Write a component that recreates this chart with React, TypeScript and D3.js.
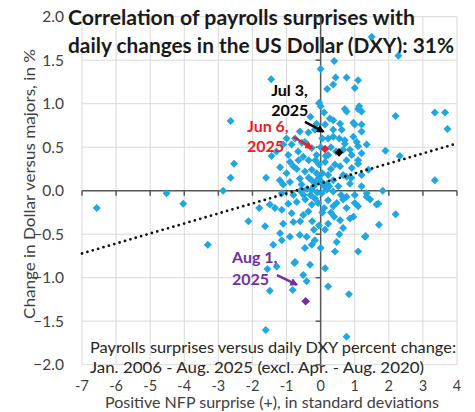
import { useEffect, useRef } from "react"
import * as d3 from "d3"

// NFP surprise (std dev) vs daily DXY change (%)
const surpriseX = [
  -6.57, -4.52, -4.03, -2.86, -2.64, -2.54, -2.64, -2.12, -3.31,
  -1.45, -1.44, -1.1, -1.19, -0.9, -1.0, -0.85, -0.95, -1.1, -1.14, -1.63, -1.49, -1.34, -1.14, -1.1, -1.19,
  -1.39, -1.14, -1.56, -1.29, -1.49, -1.61, -0.9, -0.85, -0.8,
  -0.66, -0.51, -0.12, -0.26, -0.8, -0.46, -0.12, -0.26, -0.26, -0.61, -0.56, -0.26, -0.61, -0.36, -0.12,
  -0.46, -0.17, -0.04, -0.7, -0.51, -0.36, -0.26, -0.17, -0.07, -0.61, -0.41, -0.17, -0.26, -0.46, 0.0,
  -0.75, -0.31, -0.51, -0.82, -0.41, -0.77,
  0.03, 0.18, 0.52, 0.37, 0.76, 1.4, 0.22, 0.13, 0.57, 0.22, 0.66, 0.91, 1.1, 0.76, 0.22, 0.96, 0.71, 1.35,
  1.1, 0.27, 0.57, 1.0, 0.13, 0.37, 0.0, 0.76, 1.1, 0.4, 0.0, 0.44, 0.76, 1.1, 0.37, 0.19, 1.0, 0.71,
  1.13, 1.2, 0.37, 0.96, 1.2, 0.62, 1.2, 0.37, 1.06, 0.71, 1.9, 2.32, 0.86, 1.2, 1.1, 0.42, 0.91, 1.2,
  0.66, 0.86, 3.35, 1.82, 1.35, 1.0, 1.45, 0.66, 1.69, 1.1, 0.76, 0.37, 2.2, 0.96, 0.57, 1.71, 0.66, 1.32,
  2.2, 3.35, 3.65, 3.72, 2.28, 1.5,
  0.03, 0.22, 0.37, 0.47, 0.76, 1.0, 1.35, 1.64, 0.86, 0.22, 0.13, 1.3, 0.47, 0.42, 1.1, 0.13,
  0.83, 0.22, 0.76,
  -0.4, -0.2, -0.1, 0.1, -0.3, -0.15, 0.05, -0.05, 0.1, -0.45, -0.6, -0.9, -0.7, -1.0, 0.3, 0.45, 0.3,
  0.55, -0.35, 0.05, 0.1, -0.3, -0.8, -0.95, -1.2, -0.6, -0.25, -0.05, 0.3, 0.6, 0.25, -0.55, -0.75, 0.0,
  0.9, 1.2, 0.55, -1.3, -1.6, -1.8,
  -0.35, -0.15, 0.15, 0.05, -0.5, -0.2, 0.2, -0.05, -0.65, 0.4,
]
const dollarY = [
  -0.2, -0.03, -0.15, 0.0, 0.15, 0.31, 0.8, -0.35, -0.62,
  1.28, 0.4, 0.53, 0.27, 0.33, 0.6, 0.53, 0.41, 0.07, -0.03, -0.41, -0.16, -0.2, -0.22, -0.38, -0.49,
  -0.62, -0.57, -0.9, -0.87, -1.15, -1.6, -0.53, -0.26, -0.36,
  0.45, 0.39, 0.41, 0.49, 0.28, 0.22, 0.2, 0.24, 0.12, 0.14, 0.07, 0.01, 0.68, 0.67, 0.77,
  0.56, 0.7, 1.01, -0.13, -0.28, -0.24, -0.16, -0.09, -0.14, -0.51, -0.53, -0.57, -0.62, -0.66, -0.66,
  -0.82, -0.85, -0.97, -1.14, -1.04, -0.83,
  0.1, 0.01, 0.05, 0.12, 0.16, 0.24, 0.18, 0.33, 0.28, 0.41, 0.47, 0.41, 0.35, 0.35, 0.6, 0.62, 0.58, 0.53,
  0.51, 0.83, 0.77, 0.76, 0.76, 0.7, 0.97, 0.91, 0.94, 1.49, 1.4, 1.3, 1.3, 1.27, 1.22, 1.17, 1.18, 0.94,
  0.97, 0.91, 0.81, 0.78, 0.76, 0.7, 0.68, 0.62, 0.56, 0.54, 0.46, 0.4, 0.47, 0.43, 0.31, 0.3, 0.26, 0.18,
  0.18, 0.08, 0.12, 0.0, -0.03, -0.05, -0.1, -0.1, -0.15, -0.18, -0.2, -0.18, -0.27, -0.3, -0.34, -0.39, -0.43, -0.52,
  0.86, 0.9, 0.9, 0.71, 1.55, 1.77,
  -0.03, -0.11, -0.01, -0.14, -0.07, -0.14, -0.07, -0.16, -0.32, -0.38, -0.45, -0.53, -0.59, -0.7, -0.7, -0.89,
  -1.19, -1.1, -1.68,
  0.02, 0.05, -0.02, 0.05, -0.05, 0.1, 0.2, 0.3, -0.2, -0.1, 0.0, 0.1, 0.25, 0.2, 0.25, 0.45, 0.5,
  0.6, 0.35, 0.6, 0.9, 0.85, -0.05, -0.15, 0.12, -0.35, -0.35, -0.4, -0.25, -0.05, 0.05, 0.55, 0.6, 0.5,
  0.15, 0.05, -0.5, 0.45, 0.15, -0.2,
  0.15, 0.35, 0.4, -0.25, -0.05, -0.45, 0.08, 0.15, 0.35, -0.3,
]

// highlighted releases
const highlights = [
  { label: ["Jul 3,", "2025"], x: 0.54, y: 0.44, color: "#000000", textX: -1.45, textY: [1.09, 0.86], from: [-0.46, 0.79], to: [0.08, 0.68] },
  { label: ["Jun 6,", "2025"], x: 0.13, y: 0.48, color: "#e8202a", textX: -2.16, textY: [0.67, 0.45], from: [-0.8, 0.62], to: [-0.26, 0.49] },
  { label: ["Aug 1,", "2025"], x: -0.44, y: -1.27, color: "#7030a0", textX: -2.6, textY: [-0.83, -1.08], from: [-1.28, -0.97], to: [-0.7, -1.08] },
]

// linear fit shown as dotted line
const trendSlope = 0.115
const trendIntercept = 0.083

const xTicks = d3.range(-7, 5, 1)
const yTicks = d3.range(-2, 2.01, 0.5)
const titleLines = ["Correlation of payrolls surprises with", "daily changes in the US Dollar (DXY): 31%"]
const noteLines = ["Payrolls surprises versus daily DXY percent change:", "Jan. 2006 - Aug. 2025 (excl. Apr. - Aug. 2020)"]
const xTitle = "Positive NFP surprise (+), in standard deviations"
const yTitle = "Change in Dollar versus majors, in %"

const font = "Lato, 'Open Sans', sans-serif"

export default function App() {
  const svgRef = useRef<SVGSVGElement>(null)

  useEffect(() => {
    if (!svgRef.current) return
    const svg = d3.select(svgRef.current)
    svg.selectAll("*").remove()

    const width = 475
    const height = 412
    const margin = { top: 16.7, right: 18, bottom: 47.3, left: 82 }

    const x = d3.scaleLinear().domain([-7, 4]).range([margin.left, width - margin.right])
    const y = d3.scaleLinear().domain([-2, 2]).range([height - margin.bottom, margin.top])

    svg.append("rect").attr("width", width).attr("height", height).attr("fill", "#ffffff")

    // grid
    svg.append("g")
      .selectAll("line")
      .data(xTicks)
      .join("line")
      .attr("x1", (d) => x(d))
      .attr("x2", (d) => x(d))
      .attr("y1", y(2))
      .attr("y2", y(-2))
      .attr("stroke", "#d9d9d9")
      .attr("stroke-width", 1)

    svg.append("g")
      .selectAll("line")
      .data(yTicks)
      .join("line")
      .attr("x1", x(-7))
      .attr("x2", x(4))
      .attr("y1", (d) => y(d))
      .attr("y2", (d) => y(d))
      .attr("stroke", "#d9d9d9")
      .attr("stroke-width", 1)

    // title sits under the axis lines
    const titleLen = [347, 386]
    titleLines.forEach((t, i) => {
      svg.append("text")
        .attr("x", 68)
        .attr("y", 25 + i * 28)
        .attr("font-family", font)
        .attr("font-weight", "bold")
        .attr("font-size", 20)
        .attr("fill", "#1a1a1a")
        .attr("textLength", titleLen[i])
        .attr("lengthAdjust", "spacingAndGlyphs")
        .text(t)
    })

    // axis lines through the origin
    const axisColor = "#595959"
    svg.append("line")
      .attr("x1", x(-7)).attr("x2", x(4))
      .attr("y1", y(0)).attr("y2", y(0))
      .attr("stroke", axisColor).attr("stroke-width", 1.5)
    svg.append("g")
      .selectAll("line")
      .data(xTicks)
      .join("line")
      .attr("x1", (d) => x(d)).attr("x2", (d) => x(d))
      .attr("y1", y(0)).attr("y2", y(0) + 5)
      .attr("stroke", axisColor).attr("stroke-width", 1.5)

    svg.append("line")
      .attr("x1", x(0)).attr("x2", x(0))
      .attr("y1", y(-2)).attr("y2", y(2))
      .attr("stroke", axisColor).attr("stroke-width", 1.5)
    svg.append("g")
      .selectAll("line")
      .data(yTicks)
      .join("line")
      .attr("x1", x(0) - 5).attr("x2", x(0))
      .attr("y1", (d) => y(d)).attr("y2", (d) => y(d))
      .attr("stroke", axisColor).attr("stroke-width", 1.5)

    // tick labels
    svg.append("g")
      .selectAll("text")
      .data(yTicks)
      .join("text")
      .attr("x", 64)
      .attr("y", (d) => y(d) + 5.5)
      .attr("text-anchor", "end")
      .attr("font-family", font)
      .attr("font-size", 15.5)
      .attr("fill", "#404040")
      .text((d) => d3.format(".1f")(d))

    svg.append("g")
      .selectAll("text")
      .data(xTicks)
      .join("text")
      .attr("x", (d) => x(d))
      .attr("y", 390.5)
      .attr("text-anchor", "middle")
      .attr("font-family", font)
      .attr("font-size", 14.5)
      .attr("fill", "#404040")
      .text((d) => String(d))

    svg.append("text")
      .attr("x", 272)
      .attr("y", 408)
      .attr("text-anchor", "middle")
      .attr("font-family", font)
      .attr("font-size", 15)
      .attr("fill", "#404040")
      .attr("textLength", 334)
      .attr("lengthAdjust", "spacingAndGlyphs")
      .text(xTitle)

    svg.append("text")
      .attr("transform", `translate(35,184) rotate(-90)`)
      .attr("text-anchor", "middle")
      .attr("font-family", font)
      .attr("font-size", 15.5)
      .attr("fill", "#404040")
      .attr("textLength", 270)
      .attr("lengthAdjust", "spacingAndGlyphs")
      .text(yTitle)

    const noteLen = [366, 334]
    noteLines.forEach((t, i) => {
      svg.append("text")
        .attr("x", 90)
        .attr("y", 353 + i * 20)
        .attr("font-family", font)
        .attr("font-size", 15)
        .attr("fill", "#262626")
        .attr("textLength", noteLen[i])
        .attr("lengthAdjust", "spacingAndGlyphs")
        .text(t)
    })

    // scatter
    const diamond = (r: number) => `M0,${-r}L${r},0L0,${r}L${-r},0Z`
    const points = surpriseX.map((v, i) => ({ x: v, y: dollarY[i] }))
    svg.append("g")
      .selectAll("path")
      .data(points)
      .join("path")
      .attr("d", diamond(4))
      .attr("transform", (d) => `translate(${x(d.x)},${y(d.y)})`)
      .attr("fill", "#1fa7e1")

    // trend line
    svg.append("line")
      .attr("x1", x(-7)).attr("y1", y(trendIntercept + trendSlope * -7))
      .attr("x2", x(4)).attr("y2", y(trendIntercept + trendSlope * 4))
      .attr("stroke", "#111")
      .attr("stroke-width", 2.8)
      .attr("stroke-linecap", "round")
      .attr("stroke-dasharray", "0,5.6")

    // highlighted releases with arrows
    const defs = svg.append("defs")
    highlights.forEach((h, i) => {
      defs.append("marker")
        .attr("id", `arrow${i}`)
        .attr("viewBox", "0 0 10 10")
        .attr("refX", 8).attr("refY", 5)
        .attr("markerWidth", 3.2).attr("markerHeight", 3.2)
        .attr("orient", "auto")
        .append("path")
        .attr("d", "M0,0L10,5L0,10Z")
        .attr("fill", h.color)

      svg.append("path")
        .attr("d", diamond(4.3))
        .attr("transform", `translate(${x(h.x)},${y(h.y)})`)
        .attr("fill", h.color)

      svg.append("line")
        .attr("x1", x(h.from[0])).attr("y1", y(h.from[1]))
        .attr("x2", x(h.to[0])).attr("y2", y(h.to[1]))
        .attr("stroke", h.color)
        .attr("stroke-width", 2.5)
        .attr("marker-end", `url(#arrow${i})`)

      const t = svg.append("text")
        .attr("font-family", font)
        .attr("font-weight", "bold")
        .attr("font-size", 16)
        .attr("fill", h.color)
      h.label.forEach((s, j) => {
        t.append("tspan").attr("x", x(h.textX)).attr("y", y(h.textY[j])).text(s)
      })
    })
  }, [])

  return (
    <svg
      ref={svgRef}
      width={475}
      height={412}
      style={{ position: "absolute", left: 0, top: 0 }}
    />
  )
}
